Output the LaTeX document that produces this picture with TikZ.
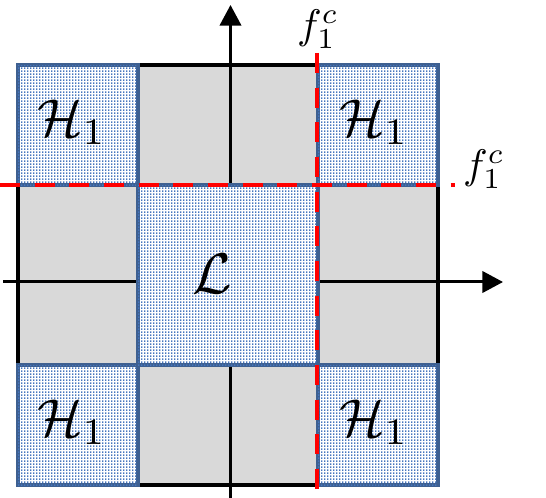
\documentclass[tikz,border=0pt]{standalone}
\usetikzlibrary{arrows.meta, patterns.meta}
\definecolor{cellblue}{RGB}{62,96,145}
\definecolor{dotblue}{RGB}{70,118,190}
\definecolor{cellgray}{RGB}{217,217,217}

\tikzdeclarepattern{
  name=stipple,
  type=uncolored,
  bottom left={(0pt,0pt)},
  top right={(2.25pt,2.25pt)},
  tile size={(2.25pt,2.25pt)},
  code={\pgfpathrectangle{\pgfpointorigin}{\pgfqpoint{1.3pt}{1.5pt}}
        \pgfusepath{fill}}
}

\begin{document}
\begin{tikzpicture}[x=0.75pt, y=-0.75pt,
  grycell/.style={fill=cellgray, draw=black, line width=3pt},
  dotcell/.style={draw=cellblue, line width=3pt, fill=white,
                  postaction={pattern=stipple, pattern color=dotblue}},
  axis/.style={line width=2.25pt, -{Triangle[length=15.5pt, width=16pt]}},
  cut/.style={red, line width=3pt, dash pattern=on 15pt off 11pt},
  lbl/.style={scale=4},
  cutlbl/.style={scale=3.1, inner sep=0pt},
]
  \useasboundingbox (0,0) rectangle (546,498);

  % gray cells
  \draw[grycell] (137.5,65.5)  rectangle (317.5,185.5);
  \draw[grycell] (137.5,365.5) rectangle (317.5,485.5);
  \draw[grycell] (17.5,185.5)  rectangle (137.5,365.5);
  \draw[grycell] (317.5,185.5) rectangle (437.5,365.5);

  % corner cells
  \draw[dotcell] (17.5,65.5)   rectangle (137.5,185.5);
  \draw[dotcell] (317.5,65.5)  rectangle (437.5,185.5);
  \draw[dotcell] (17.5,365.5)  rectangle (137.5,485.5);
  \draw[dotcell] (317.5,365.5) rectangle (437.5,485.5);

  % axes
  \coordinate (xs) at (3,282);
  \coordinate (xe) at (503,282);
  \coordinate (ys) at (230.5,498);
  \coordinate (ye) at (230.5,5);
  \draw[axis] (xs) -- (xe);
  \draw[axis] (ys) -- (ye);

  % center cell
  \draw[dotcell] (137.5,185.5) rectangle (317.5,365.5);

  % cut lines
  \coordinate (vs) at (316.5,53);
  \coordinate (ve) at (316.5,498);
  \coordinate (hs) at (0,185);
  \coordinate (he) at (455,185);
  \draw[cut] (vs) -- (ve);
  \draw[cut] (hs) -- (he);

  % labels
  \node[lbl] (htl) at (72,122)  {$\mathcal{H}_1$};
  \node[lbl] (htr) at (374,122) {$\mathcal{H}_1$};
  \node[lbl] (hbl) at (72,422)  {$\mathcal{H}_1$};
  \node[lbl] (hbr) at (374,422) {$\mathcal{H}_1$};
  \node[scale=4.3] (lc) at (212,274) {$\mathcal{L}$};
  \node[cutlbl] (fv) at (318,29)  {$f_1^c$};
  \node[cutlbl] (fh) at (484,169) {$f_1^c$};
\end{tikzpicture}
\end{document}
